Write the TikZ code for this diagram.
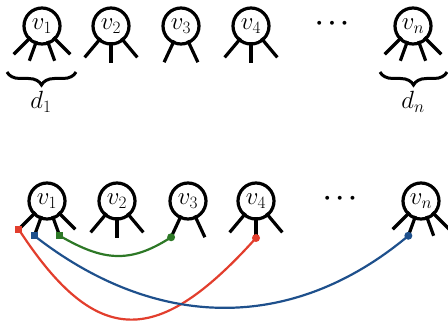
\documentclass[tikz,border=0pt]{standalone}
\usetikzlibrary{calc,decorations.pathreplacing}
\definecolor{cred}{RGB}{226,62,45}
\definecolor{cblue}{RGB}{30,80,140}
\definecolor{cgreen}{RGB}{45,120,38}
\tikzset{
  vtx/.style={circle, draw, line width=3.2pt, minimum size=36pt, inner sep=0pt, font=\fontsize{24}{28}\selectfont},
  leg/.style={line width=3.2pt},
  lbl/.style={inner sep=0pt, font=\fontsize{24}{28}\selectfont},
  dotsnode/.style={inner sep=0pt, font=\fontsize{42}{46}\selectfont\boldmath},
  bracestyle/.style={decorate, decoration={brace, amplitude=13pt}, line width=3pt},
  curve/.style={line width=2.2pt},
  sqmark/.style={rectangle, inner sep=0pt, minimum size=7pt},
  dotmark/.style={circle, inner sep=0pt, minimum size=8pt}
}
\begin{document}
\begin{tikzpicture}[x=1pt,y=1pt]
\useasboundingbox (0,0) rectangle (448,322);
% ---------- top row ----------
\node[vtx] (t1) at (42,296) {$v_1$};
\node[vtx] (t2) at (111,296) {$v_2$};
\node[vtx] (t3) at (181,296) {$v_3$};
\node[vtx] (t4) at (251,296) {$v_4$};
\node[dotsnode] (tdots) at (332,298) {$\cdots$};
\node[vtx] (tn) at (413,296) {$v_n$};
\foreach \n in {t1,tn}
  \foreach \a/\r in {-135/40,-110/37,-70/37,-45/40}
    \draw[leg] ($(\n)+(\a:16)$) -- ($(\n)+(\a:\r)$);
\foreach \n in {t2,t4}
  \foreach \a/\r in {-130/41,-90/37,-50/41}
    \draw[leg] ($(\n)+(\a:16)$) -- ($(\n)+(\a:\r)$);
\foreach \a/\r in {-115/40,-65/40}
  \draw[leg] ($(t3)+(\a:16)$) -- ($(t3)+(\a:\r)$);
% braces
\coordinate (br1a) at (7,250);
\coordinate (br1b) at (76,250);
\coordinate (brna) at (380,250);
\coordinate (brnb) at (447,250);
\draw[bracestyle] (br1b) -- (br1a);
\draw[bracestyle] (brnb) -- (brna);
\node[lbl] (d1) at (41,220) {$d_1$};
\node[lbl] (dn) at (413,220) {$d_n$};
% ---------- bottom row ----------
\node[vtx] (b1) at (47,121) {$v_1$};
\node[vtx] (b2) at (117,121) {$v_2$};
\node[vtx] (b3) at (188,121) {$v_3$};
\node[vtx] (b4) at (256,121) {$v_4$};
\node[dotsnode] (bdots) at (340,123) {$\cdots$};
\node[vtx] (bn) at (421,121) {$v_n$};
% leg end coordinates
\coordinate (b1a) at ($(b1)+(-135:40)$);
\coordinate (b1b) at ($(b1)+(-110:37)$);
\coordinate (b1c) at ($(b1)+(-70:37)$);
\coordinate (b1d) at ($(b1)+(-45:40)$);
\coordinate (bna) at ($(bn)+(-135:40)$);
\coordinate (bnb) at ($(bn)+(-110:37)$);
\coordinate (bnc) at ($(bn)+(-70:37)$);
\coordinate (bnd) at ($(bn)+(-45:40)$);
\coordinate (b2a) at ($(b2)+(-130:41)$);
\coordinate (b2b) at ($(b2)+(-90:37)$);
\coordinate (b2c) at ($(b2)+(-50:41)$);
\coordinate (b4a) at ($(b4)+(-130:41)$);
\coordinate (b4b) at ($(b4)+(-90:37)$);
\coordinate (b4c) at ($(b4)+(-50:41)$);
\coordinate (b3a) at ($(b3)+(-115:40)$);
\coordinate (b3b) at ($(b3)+(-65:40)$);
\foreach \n/\e in {b1/b1a,b1/b1b,b1/b1c,b1/b1d,bn/bna,bn/bnb,bn/bnc,bn/bnd,b2/b2a,b2/b2b,b2/b2c,b4/b4a,b4/b4b,b4/b4c,b3/b3a,b3/b3b}
  \draw[leg] ($(\n)!16pt!(\e)$) -- (\e);
% curves
\draw[curve, cred] (b1a) .. controls +(79,-121.6) and +(-97,-107.7) .. (b4b);
\draw[curve, cblue] (b1b) .. controls +(120.6,-94.2) and +(-117,-98) .. (bnb);
\draw[curve, cgreen] (b1c) .. controls +(43,-24.9) and +(-41.7,-27) .. (b3a);
% markers
\node[sqmark, fill=cred] (m1) at (b1a) {};
\node[sqmark, fill=cblue] (m2) at (b1b) {};
\node[sqmark, fill=cgreen] (m3) at (b1c) {};
\node[dotmark, fill=cgreen] (m4) at (b3a) {};
\node[dotmark, fill=cred] (m5) at (b4b) {};
\node[dotmark, fill=cblue] (m6) at (bnb) {};
\end{tikzpicture}
\end{document}
